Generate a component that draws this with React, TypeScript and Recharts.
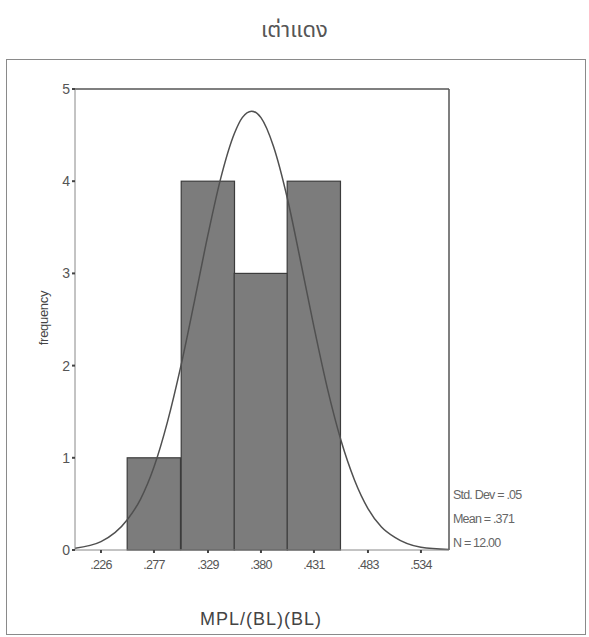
import { Bar, ComposedChart, Line, ReferenceLine, XAxis, YAxis } from 'recharts';

// histogram bins (centre of each bin) and counts
const binCentres = [0.277, 0.329, 0.38, 0.431];
const binCounts = [1, 4, 3, 4];
const binWidth = 0.0513;

// fitted normal curve, sampled across the axis range
const curveX = [
  0.201, 0.226, 0.2515, 0.264, 0.277, 0.29, 0.303, 0.316, 0.329, 0.341, 0.3545, 0.362, 0.371, 0.38, 0.392,
  0.4055, 0.418, 0.431, 0.444, 0.457, 0.47, 0.483, 0.496, 0.5085, 0.534, 0.561,
];
const curveY = [
  0.02, 0.09, 0.33, 0.55, 0.9, 1.39, 2.0, 2.7, 3.42, 4.02, 4.52, 4.69, 4.76, 4.69, 4.38,
  3.81, 3.14, 2.42, 1.75, 1.19, 0.76, 0.45, 0.25, 0.14, 0.03, 0.005,
];

const xTicks = [0.226, 0.277, 0.329, 0.38, 0.431, 0.483, 0.534];
const xTickLabels = ['.226', '.277', '.329', '.380', '.431', '.483', '.534'];
const yTicks = [0, 1, 2, 3, 4, 5];

const statLines = ['Std. Dev = .05', 'Mean = .371', 'N = 12.00'];

const bins = binCentres.map((x, i) => ({ x, count: binCounts[i] }));
const curve = curveX.map((x, i) => ({ x, curve: curveY[i] }));

const X_MIN = 0.201;
const X_MAX = 0.561;
const MARGIN = { top: 89, right: 140, left: 45, bottom: 57 };
const Y_AXIS_W = 30;
const CHART_W = 589;
const plotW = CHART_W - MARGIN.left - MARGIN.right - Y_AXIS_W;
const binPx = (binWidth / (X_MAX - X_MIN)) * plotW;

const narrow = '"Liberation Sans Narrow", "Arial Narrow", "Liberation Sans", Arial, sans-serif';

// full-width histogram column, centred on the slot recharts gives the bar
function BinShape(props: any) {
  const { x, y, width, height } = props;
  const cx = x + width / 2;
  return <rect x={cx - binPx / 2} y={y} width={binPx} height={height} fill="#7c7c7c" stroke="#3c3c3c" strokeWidth={1.2} />;
}

export default function App() {
  return (
    <div style={{ position: 'absolute', left: 0, top: 0, width: 589, height: 637, background: '#fff' }}>
      <div
        style={{
          position: 'absolute',
          top: 14,
          width: 589,
          textAlign: 'center',
          fontFamily: '"Noto Sans Thai", "Noto Sans", sans-serif',
          fontSize: 22,
          color: '#555',
        }}
      >
        เต่าแดง
      </div>
      <div
        style={{
          position: 'absolute',
          left: 6,
          top: 59,
          width: 580,
          height: 576,
          border: '1.5px solid #8a8a8a',
          boxSizing: 'border-box',
        }}
      />
      <div
        style={{
          position: 'absolute',
          left: 43,
          top: 318,
          transform: 'translate(-50%, -50%) rotate(-90deg)',
          fontFamily: '"Liberation Sans", Arial, sans-serif',
          fontSize: 13,
          letterSpacing: -0.3,
          color: '#444',
        }}
      >
        frequency
      </div>
      <div
        style={{
          position: 'absolute',
          left: 120,
          width: 282,
          top: 609,
          textAlign: 'center',
          fontFamily: '"Liberation Sans", Arial, sans-serif',
          fontSize: 18,
          letterSpacing: 1,
          color: '#444',
        }}
      >
        MPL/(BL)(BL)
      </div>
      {statLines.map((s, i) => (
        <div
          key={s}
          style={{
            position: 'absolute',
            left: 453,
            top: 488 + i * 24,
            fontFamily: narrow,
            fontSize: 12.5,
            letterSpacing: -0.8,
            color: '#666',
          }}
        >
          {s}
        </div>
      ))}
      <div style={{ position: 'absolute', left: 0, top: 0 }}>
        <ComposedChart width={CHART_W} height={637} data={bins} margin={MARGIN}>
          <XAxis
            dataKey="x"
            type="number"
            domain={[X_MIN, X_MAX]}
            ticks={xTicks}
            tickFormatter={(v: number) => xTickLabels[xTicks.indexOf(v)] ?? ''}
            tick={{ fontSize: 12.5, fill: '#555', fontFamily: narrow, letterSpacing: -0.7, dy: 5 }}
            tickSize={3}
            tickLine={{ stroke: '#444', strokeWidth: 2 }}
            axisLine={{ stroke: '#888' }}
            height={30}
            allowDataOverflow
          />
          <YAxis
            type="number"
            domain={[0, 5]}
            ticks={yTicks}
            tick={{ fontSize: 14, fill: '#555', fontFamily: '"Liberation Sans", Arial, sans-serif' }}
            tickSize={3}
            tickLine={{ stroke: '#444', strokeWidth: 2 }}
            axisLine={{ stroke: '#888' }}
            width={Y_AXIS_W}
          />
          <ReferenceLine y={5} stroke="#555" strokeWidth={1.5} />
          <ReferenceLine x={X_MAX} stroke="#555" strokeWidth={1.5} />
          <Bar dataKey="count" shape={BinShape} isAnimationActive={false} />
          <Line
            data={curve}
            dataKey="curve"
            type="monotone"
            stroke="#505050"
            strokeWidth={1.5}
            dot={false}
            activeDot={false}
            isAnimationActive={false}
          />
        </ComposedChart>
      </div>
    </div>
  );
}
